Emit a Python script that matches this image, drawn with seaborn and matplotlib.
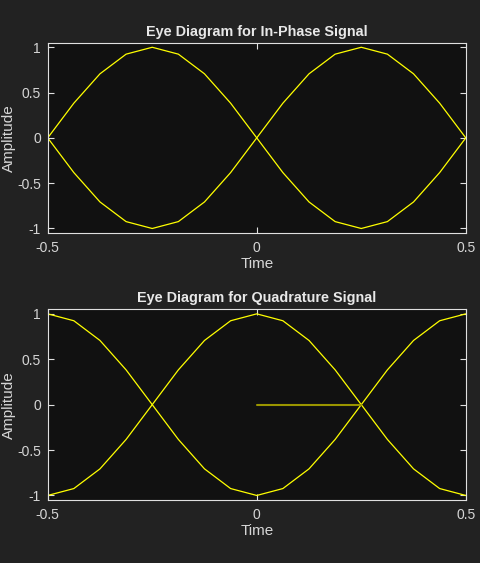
import matplotlib
matplotlib.use('Agg')
import numpy as np
import pandas as pd
import matplotlib.pyplot as plt
import seaborn as sns

# sample times over one eye (two symbols), 8 samples per symbol
t = [-0.5, -0.4375, -0.375, -0.3125, -0.25, -0.1875, -0.125, -0.0625, 0.0,
     0.0625, 0.125, 0.1875, 0.25, 0.3125, 0.375, 0.4375, 0.5]

# in-phase traces
i_trace1 = [0, -0.383, -0.707, -0.924, -1, -0.924, -0.707, -0.383, 0,
            0.383, 0.707, 0.924, 1, 0.924, 0.707, 0.383, 0]
i_trace2 = [0, 0.383, 0.707, 0.924, 1, 0.924, 0.707, 0.383, 0,
            -0.383, -0.707, -0.924, -1, -0.924, -0.707, -0.383, 0]

# quadrature traces
q_trace1 = [-1, -0.924, -0.707, -0.383, 0, 0.383, 0.707, 0.924, 1,
            0.924, 0.707, 0.383, 0, -0.383, -0.707, -0.924, -1]
q_trace2 = [1, 0.924, 0.707, 0.383, 0, -0.383, -0.707, -0.924, -1,
            -0.924, -0.707, -0.383, 0, 0.383, 0.707, 0.924, 1]
# start-up segment of the quadrature signal
q_start_t = [0.0, 0.0625, 0.125, 0.1875, 0.25]
q_start = [0, 0, 0, 0, 0]

titles = ['Eye Diagram for In-Phase Signal', 'Eye Diagram for Quadrature Signal']
xticks = [-0.5, 0, 0.5]
xticklabels = ['-0.5', '0', '0.5']
yticks = [-1, -0.5, 0, 0.5, 1]
yticklabels = ['-1', '-0.5', '0', '0.5', '1']

sns.set_theme(style='dark')
plt.rcParams['font.family'] = ['Liberation Sans', 'DejaVu Sans']

fg = '#222222'
axbg = '#111111'
txt = '#d6d6d6'
yel = '#ffff00'

fig = plt.figure(figsize=(4.8, 5.63), dpi=100, facecolor=fg)
ax1 = fig.add_axes([0.0994, 0.5861, 0.871, 0.338])
ax2 = fig.add_axes([0.0994, 0.1119, 0.871, 0.3387])

sns.lineplot(x=t, y=i_trace1, ax=ax1, color=yel, lw=0.9, sort=False, estimator=None)
sns.lineplot(x=t, y=i_trace2, ax=ax1, color=yel, lw=0.9, sort=False, estimator=None)

sns.lineplot(x=t, y=q_trace1, ax=ax2, color=yel, lw=0.9, sort=False, estimator=None)
sns.lineplot(x=t, y=q_trace2, ax=ax2, color=yel, lw=0.9, sort=False, estimator=None)
sns.lineplot(x=q_start_t, y=q_start, ax=ax2, color='#9a9500', lw=1.5, sort=False, estimator=None)

for ax, title in zip([ax1, ax2], titles):
    ax.set_facecolor(axbg)
    ax.set_xlim(-0.5, 0.5)
    ax.set_ylim(-1.05, 1.05)
    ax.set_xticks(xticks)
    ax.set_xticklabels(xticklabels)
    ax.set_yticks(yticks)
    ax.set_yticklabels(yticklabels)
    ax.grid(False)
    for s in ax.spines.values():
        s.set_visible(True)
        s.set_color('#e0e0e0')
        s.set_linewidth(0.8)
    ax.tick_params(direction='in', length=4, width=0.8, colors='#e0e0e0',
                   labelcolor=txt, labelsize=10, top=True, right=True,
                   bottom=True, left=True)
    ax.tick_params(axis='x', pad=6)
    ax.tick_params(axis='y', pad=5)
    ax.set_title(title, color='#e8e8e8', fontsize=10.4, fontweight='bold', pad=5)
    ax.set_xlabel('Time', color=txt, fontsize=11, labelpad=1)
    ax.set_ylabel('Amplitude', color=txt, fontsize=11, labelpad=1)

fig.savefig('out.png', dpi=100, facecolor=fg)
